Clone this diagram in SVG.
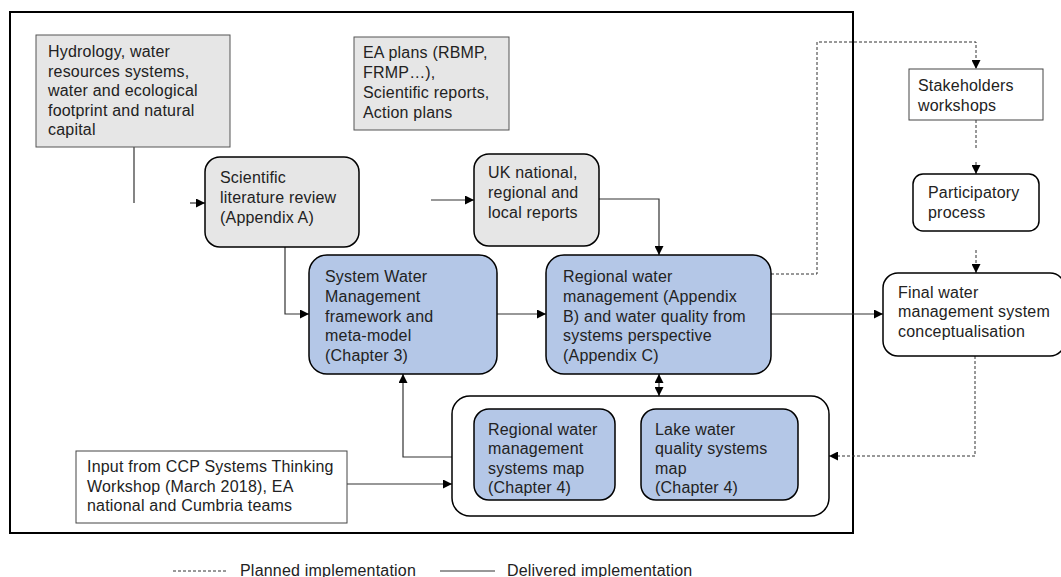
<svg xmlns="http://www.w3.org/2000/svg" width="1061" height="577" viewBox="0 0 1061 577">
<defs>
<marker id="ah" viewBox="0 0 10 10" refX="10" refY="5" markerWidth="9" markerHeight="9" markerUnits="userSpaceOnUse" orient="auto-start-reverse">
<path d="M0,0 L10,5 L0,10 z" fill="#000"/>
</marker>
<style>
text{font-family:"Liberation Sans",Arial,sans-serif;font-size:16px;letter-spacing:0.2px;fill:#222}
.grey{fill:#e6e6e6;stroke:#555;stroke-width:1}
.greyr{fill:#e6e6e6;stroke:#000;stroke-width:1.5}
.blue{fill:#b4c7e7;stroke:#000;stroke-width:1.5}
.white{fill:#fff;stroke:#000;stroke-width:1.5}
.wrect{fill:#fff;stroke:#444;stroke-width:1}
.c{fill:none;stroke:#333;stroke-width:1.2}
.d{fill:none;stroke:#333;stroke-width:1;stroke-dasharray:3,2}
</style>
</defs>
<rect width="1061" height="577" fill="#fff"/>
<rect x="10" y="12" width="843" height="521" fill="none" stroke="#000" stroke-width="2"/>

<g id="connectors">
<path class="c" d="M134,147 V203"/>
<path class="c" d="M190,203 H205" marker-end="url(#ah)"/>
<path class="c" d="M431,200 H474" marker-end="url(#ah)"/>
<path class="c" d="M599,199 H659 V255" marker-end="url(#ah)"/>
<path class="c" d="M285,247 V314 H309" marker-end="url(#ah)"/>
<path class="c" d="M497,314 H546" marker-end="url(#ah)"/>
<path class="c" d="M771,314 H883" marker-end="url(#ah)"/>
<path class="c" d="M659,374 V396" marker-start="url(#ah)" marker-end="url(#ah)"/>
<path class="c" d="M452,457 H403 V374" marker-end="url(#ah)"/>
<path class="c" d="M347,484 H452" marker-end="url(#ah)"/>
<path class="c" d="M626,455 H641" marker-end="url(#ah)"/>
<path class="d" d="M771,274 H817 V42 H976 V69" marker-end="url(#ah)"/>
<path class="d" d="M976,120 V148"/>
<path class="d" d="M976,162 V174" marker-end="url(#ah)"/>
<path class="d" d="M976,250 V273" marker-end="url(#ah)"/>
<path class="d" d="M975,356 V456 H829" marker-end="url(#ah)"/>
</g>

<g id="hydrology">
<rect class="grey" x="36" y="35" width="194" height="112"/>
<text x="48" y="57">Hydrology, water</text>
<text x="48" y="76.5">resources systems,</text>
<text x="48" y="96">water and ecological</text>
<text x="48" y="115.5">footprint and natural</text>
<text x="48" y="135">capital</text>
</g>

<g id="ea-plans">
<rect class="grey" x="354" y="37" width="155" height="93"/>
<text x="363" y="58">EA plans (RBMP,</text>
<text x="363" y="78">FRMP…),</text>
<text x="363" y="98">Scientific reports,</text>
<text x="363" y="118">Action plans</text>
</g>

<g id="literature">
<rect class="greyr" x="205" y="157" width="154" height="90" rx="15"/>
<text x="220" y="183">Scientific</text>
<text x="220" y="203">literature review</text>
<text x="220" y="223">(Appendix A)</text>
</g>

<g id="uk-reports">
<rect class="greyr" x="474" y="154" width="125" height="92" rx="15"/>
<text x="488" y="178">UK national,</text>
<text x="488" y="198">regional and</text>
<text x="488" y="218">local reports</text>
</g>

<g id="system-water">
<rect class="blue" x="309" y="255" width="188" height="119" rx="18"/>
<text x="325" y="282">System Water</text>
<text x="325" y="302">Management</text>
<text x="325" y="322">framework and</text>
<text x="325" y="341">meta-model</text>
<text x="325" y="361">(Chapter 3)</text>
</g>

<g id="regional-water">
<rect class="blue" x="546" y="255" width="225" height="119" rx="18"/>
<text x="563" y="282">Regional water</text>
<text x="563" y="302">management (Appendix</text>
<text x="563" y="322">B) and water quality from</text>
<text x="563" y="341">systems perspective</text>
<text x="563" y="361">(Appendix C)</text>
</g>

<g id="maps-group">
<rect class="white" x="452" y="396" width="377" height="120" rx="18"/>
</g>

<g id="regional-map">
<rect class="blue" x="474" y="409" width="141" height="91" rx="15"/>
<text x="488" y="435">Regional water</text>
<text x="488" y="454">management</text>
<text x="488" y="474">systems map</text>
<text x="488" y="493">(Chapter 4)</text>
</g>

<g id="lake-map">
<rect class="blue" x="641" y="409" width="157" height="91" rx="15"/>
<text x="655" y="435">Lake water</text>
<text x="655" y="454">quality systems</text>
<text x="655" y="474">map</text>
<text x="655" y="493">(Chapter 4)</text>
</g>

<g id="input-ccp">
<rect class="wrect" x="76" y="451" width="271" height="72"/>
<text x="87" y="472">Input from CCP Systems Thinking</text>
<text x="87" y="492">Workshop (March 2018), EA</text>
<text x="87" y="511">national and Cumbria teams</text>
</g>

<g id="stakeholders">
<rect class="wrect" x="909" y="69" width="134" height="51"/>
<text x="918" y="91">Stakeholders</text>
<text x="918" y="111">workshops</text>
</g>

<g id="participatory">
<rect class="white" x="913" y="174" width="126" height="57" rx="10"/>
<text x="928" y="198">Participatory</text>
<text x="928" y="218">process</text>
</g>

<g id="final">
<rect class="white" x="883" y="273" width="182" height="83" rx="15"/>
<text x="898" y="298">Final water</text>
<text x="898" y="317">management system</text>
<text x="898" y="337">conceptualisation</text>
</g>

<g id="legend">
<path class="d" d="M173,571 H228"/>
<text x="240" y="576">Planned implementation</text>
<path class="c" d="M440,571 H495"/>
<text x="507" y="576">Delivered implementation</text>
</g>
</svg>
